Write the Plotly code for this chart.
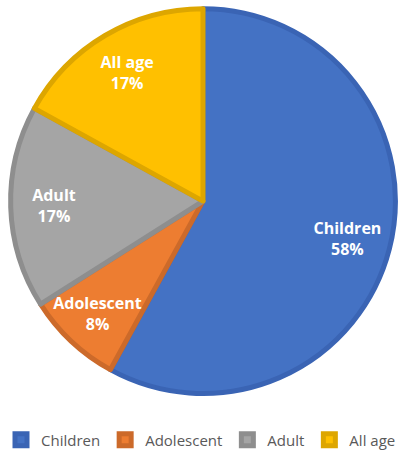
import plotly.graph_objects as go

# age groups and their share (%)
groups = ["Children", "Adolescent", "Adult", "All age"]
shares = [58, 8, 17, 17]

fill_colors = ["#4472C4", "#ED7D31", "#A5A5A5", "#FFC000"]
edge_colors = ["#3A64B4", "#CC6A2A", "#8E8E8E", "#DDA600"]

pie_domain = dict(x=[0.026, 0.984], y=[0.139, 0.981])
font_name = "Open Sans, Lato, sans-serif"

fig = go.Figure()

# the pie itself (no text)
fig.add_trace(go.Pie(
    labels=groups,
    values=shares,
    sort=False,
    direction="clockwise",
    rotation=0,
    marker=dict(colors=fill_colors, line=dict(color=edge_colors, width=5)),
    textinfo="none",
    hoverinfo="label+percent",
    domain=pie_domain,
))

# transparent ring on top, only to push the labels out towards the rim
fig.add_trace(go.Pie(
    labels=groups,
    values=shares,
    sort=False,
    direction="clockwise",
    rotation=0,
    hole=0.55,
    marker=dict(colors=["rgba(0,0,0,0)"] * len(groups), line=dict(width=0)),
    texttemplate="<b>%{label}<br>%{percent:.0%}</b>",
    textposition="inside",
    insidetextorientation="horizontal",
    textfont=dict(family=font_name, size=16, color="white"),
    hoverinfo="skip",
    showlegend=False,
    domain=pie_domain,
))

fig.update_layout(
    width=402,
    height=457,
    margin=dict(l=0, r=0, t=0, b=0),
    paper_bgcolor="white",
    plot_bgcolor="white",
    uniformtext=dict(minsize=16, mode="show"),
    legend=dict(
        orientation="h",
        x=0.5,
        xanchor="center",
        y=0.037,
        yanchor="middle",
        font=dict(family=font_name, size=15, color="#595959"),
        itemwidth=30,
        tracegroupgap=0,
    ),
)

fig.write_html("out.html", config={"displayModeBar": False},
               post_script="document.body.style.margin='0';")
